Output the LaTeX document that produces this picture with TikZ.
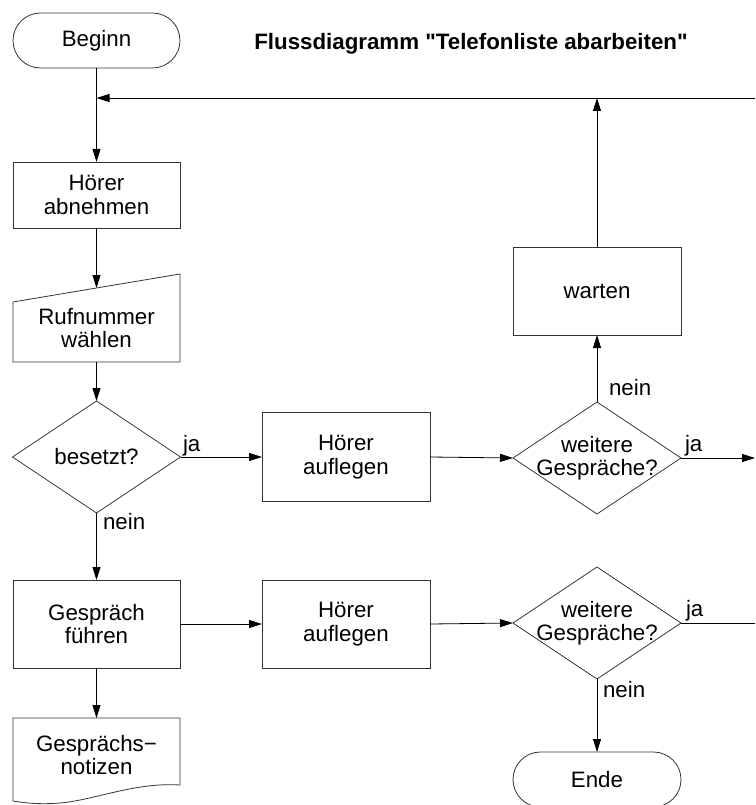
\documentclass[tikz,border=0pt]{standalone}
\usepackage{fontspec}
\setmainfont{Liberation Sans}
% straight quotes in the heading: no TeX quote mapping
\newfontfamily\headfont{Liberation Sans}[Ligatures=TeXOff]
\usetikzlibrary{arrows.meta,shapes.geometric,calc}
\begin{document}
\begin{tikzpicture}[x=1pt,y=-1pt,
  every node/.style={font=\fontsize{22.3pt}{23.5pt}\selectfont, align=center, inner sep=0pt, outer sep=0pt},
  outline/.style={draw=black!80, line width=0.8pt},
  terminal/.style={outline, rectangle, rounded corners=27.5pt, minimum width=167pt, minimum height=55pt},
  process/.style={outline, rectangle, minimum width=167pt},
  decision/.style={outline, diamond, minimum width=168pt, minimum height=112pt},
  frame/.style={rectangle, minimum width=167pt},
  flow/.style={line width=0.8pt, -{Triangle[length=13pt,width=8pt]}},
  plain/.style={line width=0.8pt},
  lbl/.style={anchor=west}
]
\useasboundingbox (0,0) rectangle (755,805);

% title
\node[font=\headfont\fontsize{22.3pt}{25pt}\selectfont\bfseries] (title) at (471,44) {Flussdiagramm "Telefonliste abarbeiten"};

% left column
\node[terminal] (begin) at (96.5,40.5) {Beginn};
\node[process, minimum height=66pt] (abn) at (96.5,195) {Hörer\\abnehmen};
\node[frame, minimum height=88pt] (ruf) at (96.5,318) {};
\draw[outline] (ruf.south west) -- (ruf.south east) -- (ruf.north east)
  -- ([yshift=-28pt]ruf.north west) -- cycle;
\node at (96.5,328) {Rufnummer\\wählen};
\coordinate (rufin) at ($(ruf.north east)!0.5!([yshift=-28pt]ruf.north west)$);
\node[decision] (bes) at (96.5,457) {};
\node at (bes) {besetzt?};
\node[process, minimum height=88pt] (fuehr) at (96.5,624) {Gespräch\\führen};
\node[frame, minimum height=84pt] (notiz) at (96.5,760) {};
\draw[outline] (notiz.north west) -- (notiz.north east) -- (180,785)
  .. controls (135,782) and (95,800) .. (60,803)
  .. controls (35,805) and (20,802) .. (13,801) -- cycle;
\node at (96.5,755) {Gesprächs−\\notizen};

% middle column
\node[process, minimum width=168pt, minimum height=89pt] (auf1) at (346,457) {Hörer\\auflegen};
\node[process, minimum width=168pt, minimum height=88pt] (auf2) at (346,624) {Hörer\\auflegen};

% right column
\node[process, minimum width=168pt, minimum height=88pt] (warten) at (597,291) {warten};
\node[decision] (wg1) at (597,458) {};
\node at (wg1) {weitere\\Gespräche?};
\node[decision] (wg2) at (597,623) {};
\node at (wg2) {weitere\\Gespräche?};
\node[terminal, minimum width=168pt] (ende) at (597,779.5) {Ende};

% loose ends of the connectors
\coordinate (j1) at (96.5,98);
\coordinate (j2) at (597,98);
\coordinate (ret) at (755,98);
\coordinate (out1) at (755,458);
\coordinate (out2) at (755,623);

% connectors
\draw[flow] (begin.south) -- (abn.north);
\draw[flow] (ret) -- (j1);
\draw[flow] (warten.north) -- (j2);
\draw[flow] (abn.south) -- (rufin);
\draw[flow] (ruf.south) -- (bes.north);
\draw[flow] (bes.east) -- (auf1.west);
\draw[flow] (auf1.east) -- (wg1.west);
\draw[flow] (wg1.east) -- (out1);
\draw[flow] (wg1.north) -- (warten.south);
\draw[flow] (bes.south) -- (fuehr.north);
\draw[flow] (fuehr.east) -- (auf2.west);
\draw[flow] (auf2.east) -- (wg2.west);
\draw[plain] (wg2.east) -- (out2);
\draw[flow] (wg2.south) -- (ende.north);
\draw[flow] (fuehr.south) -- (notiz.north);

% branch labels
\node[lbl] (ja1) at (183,446) {ja};
\node[lbl] (nein1) at (103,522) {nein};
\node[lbl] (ja2) at (685,446) {ja};
\node[lbl] (nein2) at (609,388) {nein};
\node[lbl] (ja3) at (686,611) {ja};
\node[lbl] (nein3) at (603,690) {nein};
\end{tikzpicture}
\end{document}
